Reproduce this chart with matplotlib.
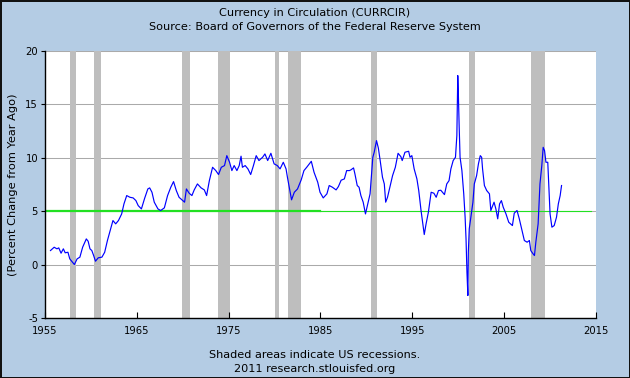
import matplotlib
matplotlib.use("Agg")
import matplotlib.pyplot as plt

plt.rcParams['axes.unicode_minus'] = False
plt.rcParams['font.family'] = ['DejaVu Sans']

years = [1955.6, 1956.0, 1956.3, 1956.5, 1956.75, 1957.0, 1957.2, 1957.5, 1957.7, 1958.2,
         1958.5, 1958.8, 1959.1, 1959.5, 1959.7, 1959.9, 1960.1, 1960.3, 1960.5, 1960.8,
         1961.2, 1961.5, 1961.8, 1962.1, 1962.4, 1962.7, 1963.0, 1963.35, 1963.6, 1963.9,
         1964.25, 1964.6, 1964.9, 1965.15, 1965.5, 1965.85, 1966.2, 1966.4, 1966.65, 1966.9,
         1967.3, 1967.6, 1968.0, 1968.35, 1968.7, 1969.0, 1969.3, 1969.6, 1970.0, 1970.2,
         1970.4, 1970.7, 1971.0, 1971.25, 1971.6, 1972.0, 1972.35, 1972.6, 1972.9, 1973.25,
         1973.6, 1973.9, 1974.2, 1974.55, 1974.8, 1975.1, 1975.35, 1975.6, 1975.9, 1976.15,
         1976.35, 1976.5, 1976.8, 1977.1, 1977.4, 1977.7, 1978.0, 1978.3, 1978.7, 1978.95,
         1979.25, 1979.6, 1979.95, 1980.3, 1980.6, 1980.95, 1981.25, 1981.4, 1981.6, 1981.85,
         1982.15, 1982.5, 1982.9, 1983.2, 1983.5, 1984.0, 1984.3, 1984.7, 1984.95, 1985.3,
         1985.7, 1985.95, 1986.3, 1986.7, 1986.95, 1987.25, 1987.6, 1987.85, 1988.15, 1988.3,
         1988.6, 1988.75, 1989.0, 1989.2, 1989.4, 1989.65, 1989.9, 1990.15, 1990.4, 1990.7,
         1990.85, 1991.1, 1991.3, 1991.5, 1991.75, 1991.95, 1992.1, 1992.3, 1992.55, 1992.85,
         1993.15, 1993.45, 1993.75, 1993.9, 1994.2, 1994.6, 1994.75, 1994.95, 1995.2, 1995.5,
         1995.7, 1995.95, 1996.15, 1996.3, 1996.5, 1996.75, 1997.05, 1997.35, 1997.6, 1997.85,
         1998.1, 1998.5, 1998.75, 1999.0, 1999.2, 1999.45, 1999.7, 1999.85, 1999.95, 2000.0,
         2000.1, 2000.2, 2000.4, 2000.6, 2000.75, 2000.85, 2000.95, 2001.05, 2001.1, 2001.2,
         2001.4, 2001.6, 2001.75, 2002.0, 2002.2, 2002.4, 2002.55, 2002.65, 2002.85, 2003.1,
         2003.4, 2003.55, 2003.75, 2003.9, 2004.1, 2004.3, 2004.5, 2004.7, 2004.9, 2005.2,
         2005.5, 2005.7, 2005.9, 2006.1, 2006.4, 2006.65, 2006.9, 2007.2, 2007.5, 2007.75,
         2007.9, 2008.15, 2008.3, 2008.45, 2008.7, 2008.9, 2009.1, 2009.25, 2009.4, 2009.55,
         2009.75, 2009.85, 2010.0, 2010.2, 2010.45, 2010.7, 2010.9, 2011.1, 2011.25]
values = [1.31, 1.62, 1.47, 1.56, 1.06, 1.47, 1.10, 1.15, 0.53, 0.00,
          0.53, 0.69, 1.62, 2.40, 2.18, 1.47, 1.31, 0.84, 0.31, 0.63,
          0.69, 1.15, 2.25, 3.18, 4.12, 3.81, 4.12, 4.74, 5.68, 6.46,
          6.30, 6.24, 5.99, 5.52, 5.21, 6.20, 7.08, 7.18, 6.77, 5.84,
          5.21, 5.06, 5.31, 6.46, 7.24, 7.77, 6.93, 6.30, 5.99, 5.84,
          7.08, 6.68, 6.46, 6.99, 7.55, 7.18, 6.99, 6.46, 7.86, 9.11,
          8.80, 8.43, 9.11, 9.27, 10.20, 9.58, 8.80, 9.27, 8.80, 9.27,
          10.15, 9.11, 9.27, 8.96, 8.43, 9.27, 10.20, 9.74, 10.05, 10.36,
          9.74, 10.42, 9.43, 9.27, 8.96, 9.58, 8.96, 8.18, 7.24, 6.06,
          6.77, 7.08, 7.93, 8.80, 9.11, 9.67, 8.64, 7.71, 6.77, 6.24,
          6.62, 7.40, 7.24, 6.99, 7.30, 7.90, 8.02, 8.80, 8.80, 8.86,
          9.05, 8.49, 7.40, 7.24, 6.46, 5.84, 4.74, 5.68, 6.62, 10.05,
          10.52, 11.61, 10.92, 9.74, 8.18, 7.55, 5.84, 6.30, 7.24, 8.33,
          9.11, 10.42, 10.11, 9.74, 10.52, 10.61, 10.05, 10.20, 8.96, 8.02,
          6.93, 5.06, 3.81, 2.81, 3.81, 4.90, 6.77, 6.68, 6.30, 6.93,
          6.96, 6.55, 7.55, 7.86, 8.96, 9.74, 10.05, 12.08, 17.70, 16.45,
          13.00, 10.05, 8.80, 6.62, 4.43, 2.40, -0.72, -2.90, 1.15, 3.34,
          4.59, 5.84, 7.55, 8.33, 9.43, 10.20, 10.05, 8.96, 7.40, 6.93,
          6.62, 5.06, 5.52, 5.84, 5.21, 4.28, 5.68, 5.99, 5.37, 4.74,
          3.96, 3.81, 3.65, 4.81, 5.06, 4.28, 3.34, 2.25, 2.09, 2.25,
          1.31, 1.00, 0.84, 2.09, 3.81, 7.55, 9.27, 10.98, 10.67, 9.58,
          9.58, 7.55, 4.74, 3.50, 3.65, 4.43, 5.68, 6.46, 7.40]

recessions = [(1957.67, 1958.33), (1960.33, 1961.08), (1969.92, 1970.83),
              (1973.83, 1975.17), (1980.0, 1980.5), (1981.5, 1982.83),
              (1990.5, 1991.17), (2001.17, 2001.83), (2007.92, 2009.5)]

ref_level = 5
ref_span1 = (1955, 1985)
ref_span2 = (1985, 2014.5)

xticks = [1955, 1965, 1975, 1985, 1995, 2005, 2015]
yticks = [-5, 0, 5, 10, 15, 20]

bg = '#B4CCE4'
fig = plt.figure(figsize=(6.3, 3.78), dpi=100, facecolor=bg)
fig.patch.set_edgecolor('#111111')
fig.patch.set_linewidth(2)

ax = fig.add_axes([0.0714, 0.159, 0.8746, 0.706])
ax.set_facecolor('white')
for a, b in recessions:
    ax.axvspan(a, b, color='#BEBEBE', lw=0, zorder=1)
for y in yticks:
    ax.axhline(y, color='#AAAAAA', lw=0.75, zorder=0.5)

ax.plot(list(ref_span1), [ref_level, ref_level], color='#22E022', lw=1.6, zorder=2)
ax.plot(list(ref_span2), [ref_level, ref_level], color='#22E022', lw=0.8, zorder=2)
ax.plot(years, values, color='#0000FF', lw=0.85, zorder=3)

ax.set_xlim(1955, 2015)
ax.set_ylim(-5, 20)
ax.set_xticks(xticks)
ax.set_yticks(yticks)
ax.set_xticklabels([str(t) for t in xticks], fontsize=7.2)
ax.set_yticklabels([str(t) for t in yticks], fontsize=7.2)
ax.tick_params(axis='x', direction='in', length=4, width=0.8, pad=6, colors='black')
ax.tick_params(axis='y', direction='out', length=3, width=0.8, pad=2, colors='black')
for s in ['top', 'right']:
    ax.spines[s].set_visible(False)
for s in ['left', 'bottom']:
    ax.spines[s].set_color('black')
    ax.spines[s].set_linewidth(1)

ax.set_ylabel('(Percent Change from Year Ago)', fontsize=8.2, labelpad=5)

fs = 8.1
fig.text(0.5, 1 - 13/378, 'Currency in Circulation (CURRCIR)', ha='center', va='center', fontsize=fs)
fig.text(0.5, 1 - 27/378, 'Source: Board of Governors of the Federal Reserve System', ha='center', va='center', fontsize=fs)
fig.text(0.5, 1 - 355/378, 'Shaded areas indicate US recessions.', ha='center', va='center', fontsize=fs)
fig.text(0.5, 1 - 369/378, '2011 research.stlouisfed.org', ha='center', va='center', fontsize=fs)

fig.savefig('out.png', dpi=100, facecolor=bg, edgecolor=fig.patch.get_edgecolor())
